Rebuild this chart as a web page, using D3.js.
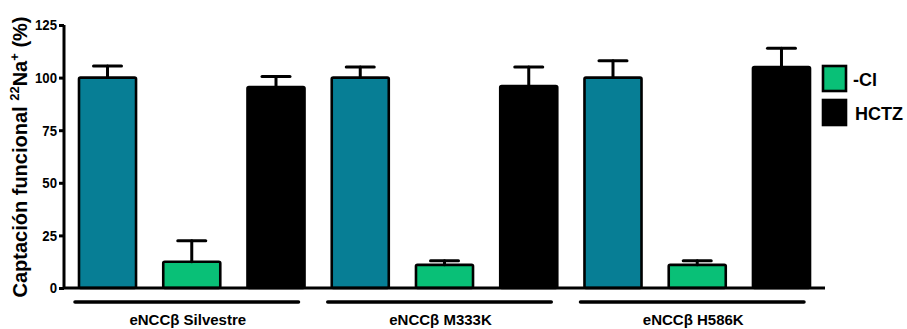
<!DOCTYPE html>
<html>
<head>
<meta charset="utf-8">
<script src="https://cdn.jsdelivr.net/npm/d3@7/dist/d3.min.js"></script>
<style>
  html, body { margin: 0; padding: 0; background: #fff; }
  svg text { font-family: "Liberation Sans", Arial, sans-serif; font-weight: bold; fill: #000; }
</style>
</head>
<body>
<svg id="chart" width="907" height="329"></svg>
<script>
// Groups (constructs) and treatment series
const groups = ["eNCCβ Silvestre", "eNCCβ M333K", "eNCCβ H586K"];
const seriesKeys = ["Control", "-Cl", "HCTZ"];
const seriesColors = ["#077e95", "#09c077", "#000000"];

// Mean uptake (% of control) per group, one array per series
const controlMeans = [100, 100, 100];
const clMeans = [12.5, 11, 11];
const hctzMeans = [95.5, 96, 105];

// Standard error per group
const controlErr = [5.5, 5, 8];
const clErr = [10, 2, 2];
const hctzErr = [5, 9, 9];

const yTicks = [0, 25, 50, 75, 100, 125];
const legendKeys = ["-Cl", "HCTZ"];

const means = [controlMeans, clMeans, hctzMeans];
const errs = [controlErr, clErr, hctzErr];

const bars = [];
groups.forEach((g, gi) => {
  seriesKeys.forEach((s, si) => {
    bars.push({ key: g + "|" + s, group: g, gi, si, value: means[si][gi], err: errs[si][gi] });
  });
});

const svg = d3.select("#chart");

const x = d3.scaleBand()
  .domain(bars.map(d => d.key))
  .range([64, 825])
  .paddingInner(0.323)
  .paddingOuter(0.178);

const y = d3.scaleLinear().domain([0, 125]).range([288, 25]);

// Bars
svg.append("g").selectAll("rect")
  .data(bars)
  .join("rect")
  .attr("x", d => x(d.key))
  .attr("y", d => y(d.value))
  .attr("width", x.bandwidth())
  .attr("height", d => y(0) - y(d.value))
  .attr("rx", 1.5)
  .attr("fill", d => seriesColors[d.si])
  .attr("stroke", "#000")
  .attr("stroke-width", 2.6);

// Upward error bars
const eb = svg.append("g").attr("stroke", "#000").attr("stroke-width", 3).attr("stroke-linecap", "round");
bars.forEach(d => {
  const cx = x(d.key) + x.bandwidth() / 2;
  eb.append("line")
    .attr("x1", cx).attr("x2", cx)
    .attr("y1", y(d.value)).attr("y2", y(d.value + d.err));
  eb.append("line")
    .attr("x1", cx - 14).attr("x2", cx + 14)
    .attr("y1", y(d.value + d.err)).attr("y2", y(d.value + d.err));
});

// Y axis
const yAxis = svg.append("g")
  .attr("transform", "translate(64,0)")
  .call(d3.axisLeft(y).tickValues(yTicks).tickSize(5).tickPadding(3));
yAxis.select(".domain").attr("stroke", "#000").attr("stroke-width", 3)
  .attr("d", `M0,${y(125)}V${y(0)}`);
yAxis.selectAll(".tick line").attr("stroke", "#000").attr("stroke-width", 3);
yAxis.selectAll(".tick text")
  .attr("font-size", 15)
  .attr("font-family", "Liberation Sans, Arial, sans-serif")
  .attr("font-weight", "bold")
  .attr("fill", "#000")
  .attr("x", null)
  .attr("text-anchor", "end")
  .attr("transform", "translate(-7,0) scale(0.88,1)");

// X baseline
svg.append("line")
  .attr("x1", 64).attr("x2", 825)
  .attr("y1", y(0)).attr("y2", y(0))
  .attr("stroke", "#000").attr("stroke-width", 3);

// Group brackets and labels
groups.forEach((g, gi) => {
  const first = x(g + "|" + seriesKeys[0]);
  const last = x(g + "|" + seriesKeys[seriesKeys.length - 1]) + x.bandwidth();
  svg.append("line")
    .attr("x1", first - 4).attr("x2", last - 6)
    .attr("y1", 302).attr("y2", 302)
    .attr("stroke", "#000").attr("stroke-width", 3.5).attr("stroke-linecap", "round");
  svg.append("text")
    .attr("x", (first + last) / 2 - 4)
    .attr("y", 325)
    .attr("text-anchor", "middle")
    .attr("font-size", 15)
    .text(g);
});

// Y title
const title = svg.append("text")
  .attr("transform", "translate(27,157) rotate(-90)")
  .attr("text-anchor", "middle")
  .attr("font-size", 20);
title.append("tspan").text("Captación funcional ");
title.append("tspan").attr("font-size", 13).attr("dy", -8).text("22");
title.append("tspan").attr("dy", 8).text("Na");
title.append("tspan").attr("font-size", 13).attr("dy", -8).text("+");
title.append("tspan").attr("dy", 8).text(" (%)");

// Legend
const legend = svg.append("g");
legendKeys.forEach((k, i) => {
  const si = seriesKeys.indexOf(k);
  legend.append("rect")
    .attr("x", 823).attr("y", 66 + i * 34)
    .attr("width", 23).attr("height", 25)
    .attr("fill", seriesColors[si])
    .attr("stroke", "#000").attr("stroke-width", 2.6);
  legend.append("text")
    .attr("x", 853 + i * 2)
    .attr("y", 80 + i * 34)
    .attr("dy", "0.35em")
    .attr("font-size", 18)
    .text(k);
});
</script>
</body>
</html>
